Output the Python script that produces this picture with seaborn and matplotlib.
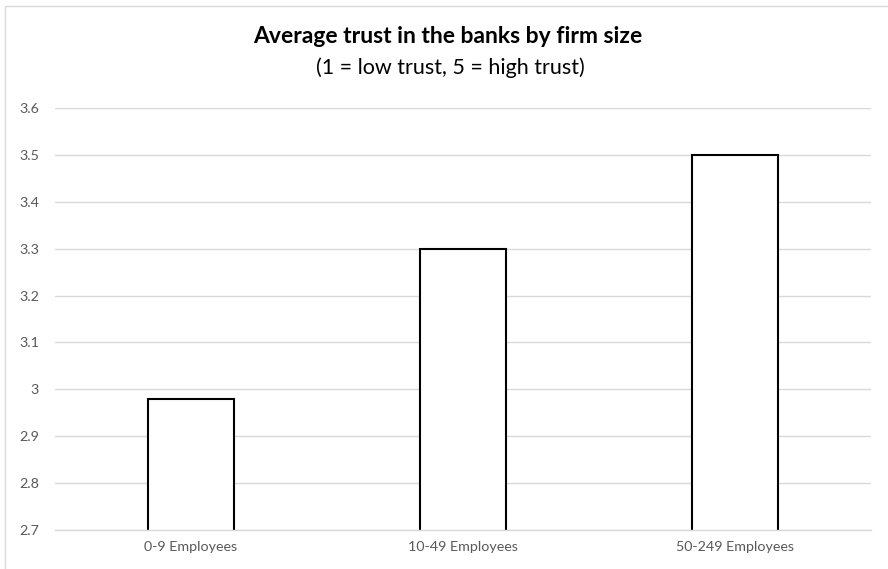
import matplotlib
matplotlib.use("Agg")
import matplotlib.pyplot as plt
import seaborn as sns
import pandas as pd
from matplotlib.patches import Rectangle

categories = ["0-9 Employees", "10-49 Employees", "50-249 Employees"]
values = [2.98, 3.30, 3.50]
yticks = [2.7, 2.8, 2.9, 3.0, 3.1, 3.2, 3.3, 3.4, 3.5, 3.6]
ytick_labels = ["2.7", "2.8", "2.9", "3", "3.1", "3.2", "3.3", "3.4", "3.5", "3.6"]
title = "Average trust in the banks by firm size"
subtitle = "(1 = low trust, 5 = high trust)"

sns.set_style("white")
plt.rcParams['font.family'] = ['Lato', 'DejaVu Sans']

df = pd.DataFrame({"size": categories, "trust": values})

fig = plt.figure(figsize=(8.88, 5.69), dpi=100)
W, H = 888, 569
ax = fig.add_axes([55 / W, 1 - 530 / H, 816 / W, (530 - 108) / H])

sns.barplot(data=df, x="size", y="trust", ax=ax, color="white",
            edgecolor="black", linewidth=1.5, width=0.316, zorder=3)

ax.set_ylim(2.7, 3.6)
ax.set_xlim(-0.5, 2.5)
ax.set_yticks(yticks)
ax.set_yticklabels(ytick_labels)
ax.yaxis.grid(True, color="#D9D9D9", linewidth=1, zorder=0)
ax.set_axisbelow(True)
for s in ["top", "right", "left"]:
    ax.spines[s].set_visible(False)
ax.spines["bottom"].set_color("#D9D9D9")
ax.spines["bottom"].set_linewidth(1)
ax.spines["bottom"].set_zorder(5)
ax.tick_params(axis="both", length=0, labelsize=10.3, labelcolor="#595959")
ax.tick_params(axis="y", pad=11.5)
ax.tick_params(axis="x", pad=8)
ax.set_xlabel("")
ax.set_ylabel("")

fig.text(448 / W, 1 - 43 / H, title, ha="center", va="baseline",
         fontsize=16.5, fontweight="bold", color="black")
fig.text(450 / W, 1 - 74 / H, subtitle, ha="center", va="baseline",
         fontsize=15.5, color="black")

# chart-area border (light grey), cropped at right and bottom
fig.add_artist(Rectangle((5 / W, -0.1), 1.2, 1 - 6 / H + 0.1,
                         transform=fig.transFigure, fill=False,
                         edgecolor="#D9D9D9", linewidth=1))

fig.savefig("out.png", dpi=100, facecolor="white")
